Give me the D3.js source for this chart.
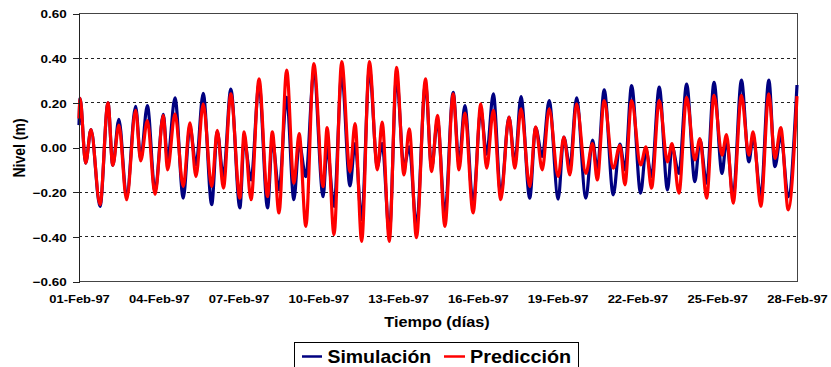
<!DOCTYPE html>
<html>
<head>
<meta charset="utf-8">
<script src="https://cdn.jsdelivr.net/npm/d3@7"></script>
<style>
  html, body { margin: 0; padding: 0; background: #ffffff; }
  svg { display: block; }
  text { font-family: "Liberation Sans", Arial, sans-serif; font-weight: bold; fill: #000; }
</style>
</head>
<body>
<svg id="chart" width="831" height="367"></svg>
<script>
// ---- Data: time in days since 01-Feb-97 00:00 ----
const tDays = [
  0.00, 0.04, 0.25, 0.45, 0.79, 1.09, 1.27, 1.50, 1.79, 2.13, 2.32, 2.57, 2.86,
  3.17, 3.33, 3.61, 3.92, 4.17, 4.40, 4.67, 4.99, 5.20, 5.43, 5.71, 6.05, 6.21,
  6.47, 6.77, 7.09, 7.27, 7.52, 7.81, 8.08, 8.28, 8.53, 8.83, 9.18, 9.33, 9.59,
  9.88, 10.19, 10.38, 10.63, 10.92, 11.22, 11.40, 11.67, 11.94, 12.22, 12.42, 12.69,
  13.03, 13.26, 13.48, 13.76, 14.07, 14.29, 14.51, 14.82, 15.11, 15.33, 15.58, 15.86,
  16.17, 16.39, 16.62, 16.95, 17.17, 17.42, 17.68, 18.02, 18.23, 18.46, 18.71, 19.06,
  19.31, 19.49, 19.75, 20.09, 20.34, 20.53, 20.78, 21.12, 21.32, 21.53, 21.82, 22.13,
  22.30, 22.56, 22.85, 23.16, 23.35, 23.60, 23.88, 24.18, 24.35, 24.60, 24.91, 25.19,
  25.35, 25.64, 25.94, 26.17, 26.39, 26.67, 27.00
];
const simulacion = [
  0.10, 0.22, -0.07, 0.08, -0.264, 0.20, -0.08, 0.126, -0.22, 0.184, -0.05, 0.188, -0.197,
  0.148, -0.056, 0.222, -0.227, 0.092, -0.078, 0.243, -0.256, 0.07, -0.13, 0.262, -0.271, 0.033,
  -0.145, 0.284, -0.271, 0.033, -0.19, 0.225, -0.234, 0.018, -0.13, 0.336, -0.22, 0.003, -0.264,
  0.329, -0.172, 0.018, -0.323, 0.351, -0.086, 0.018, -0.382, 0.314, -0.086, 0.003, -0.353,
  0.284, -0.09, 0.121, -0.30, 0.247, -0.071, 0.188, -0.249, 0.166, -0.03, 0.24, -0.212,
  0.136, -0.071, 0.228, -0.227, 0.089, -0.04, 0.21, -0.231, 0.047, -0.086, 0.222, -0.227,
  0.033, -0.10, 0.258, -0.212, 0.015, -0.10, 0.277, -0.204, -0.012, -0.13, 0.27, -0.19,
  0.003, -0.116, 0.284, -0.153, 0.035, -0.16, 0.292, -0.116, 0.033, -0.22, 0.302, -0.064,
  0.047, -0.22, 0.302, -0.086, 0.055, -0.22, 0.28
];
const prediccion = [
  0.13, 0.22, -0.07, 0.08, -0.256, 0.20, -0.08, 0.10, -0.234, 0.166, -0.06, 0.12, -0.21,
  0.144, -0.10, 0.151, -0.175, 0.11, -0.13, 0.196, -0.175, 0.077, -0.182, 0.24, -0.227, 0.07,
  -0.234, 0.307, -0.22, 0.07, -0.293, 0.347, -0.16, 0.062, -0.353, 0.376, -0.175, 0.089, -0.39,
  0.385, -0.108, 0.107, -0.42, 0.385, -0.10, 0.114, -0.42, 0.359, -0.123, 0.084, -0.404,
  0.307, -0.108, 0.144, -0.353, 0.24, -0.10, 0.154, -0.293, 0.196, -0.093, 0.166, -0.234,
  0.136, -0.093, 0.173, -0.175, 0.092, -0.10, 0.173, -0.13, 0.047, -0.123, 0.196, -0.116,
  0.018, -0.145, 0.21, -0.093, 0.01, -0.167, 0.21, -0.078, 0.003, -0.182, 0.21, -0.064,
  0.018, -0.204, 0.225, -0.056, 0.04, -0.227, 0.233, -0.034, 0.058, -0.249, 0.233, -0.034,
  0.07, -0.264, 0.24, -0.049, 0.089, -0.279, 0.23
];
const yTickValues = [-0.6, -0.4, -0.2, 0.0, 0.2, 0.4, 0.6];
const yGridValues = [-0.4, -0.2, 0.2, 0.4];
const xTickLabels = ["01-Feb-97","04-Feb-97","07-Feb-97","10-Feb-97","13-Feb-97","16-Feb-97","19-Feb-97","22-Feb-97","25-Feb-97","28-Feb-97"];
const seriesNames = ["Simulación", "Predicción"];
const seriesColors = ["#000080", "#ff0000"];
const xTitle = "Tiempo (días)";
const yTitle = "Nivel (m)";

// ---- Layout ----
const svg = d3.select("#chart");
const L = 79, R = 797, T = 13.5, B = 281.5;
const start = new Date(1997, 1, 1);
const toDate = d => new Date(start.getTime() + d * 86400000);

const x = d3.scaleTime().domain([start, toDate(27)]).range([L, R]);
const y = d3.scaleLinear().domain([-0.6, 0.6]).range([B, T]);

// Grid lines
svg.append("g").selectAll("line").data(yGridValues).join("line")
  .attr("x1", L).attr("x2", R)
  .attr("y1", d => y(d)).attr("y2", d => y(d))
  .attr("stroke", "#222").attr("stroke-width", 1)
  .attr("stroke-dasharray", "3,3")
  .attr("shape-rendering", "crispEdges");

// Zero line
svg.append("line")
  .attr("x1", L).attr("x2", R).attr("y1", y(0)).attr("y2", y(0))
  .attr("stroke", "#000").attr("stroke-width", 1)
  .attr("shape-rendering", "crispEdges");

// Plot frame
svg.append("rect")
  .attr("x", L).attr("y", T).attr("width", R - L).attr("height", B - T)
  .attr("fill", "none").attr("stroke", "#444").attr("stroke-width", 1)
  .attr("shape-rendering", "crispEdges");

// Series
const pts = (vals) => tDays.map((t, i) => ({ date: toDate(t), v: vals[i] }));
const line = d3.line().x(d => x(d.date)).y(d => y(d.v)).curve(d3.curveMonotoneX);
const allSeries = [simulacion, prediccion];
svg.append("g").selectAll("path").data(allSeries).join("path")
  .attr("d", d => line(pts(d)))
  .attr("fill", "none")
  .attr("stroke", (d, i) => seriesColors[i])
  .attr("stroke-width", 3.2)
  .attr("stroke-linejoin", "round");

// Y axis
const yAxis = d3.axisLeft(y).tickValues(yTickValues).tickSize(6).tickPadding(0)
  .tickFormat(d3.format(".2f"));
const gy = svg.append("g").attr("transform", `translate(${L},0)`).call(yAxis);
gy.select(".domain").attr("stroke", "#222").attr("shape-rendering", "crispEdges");
gy.selectAll(".tick line").attr("stroke", "#222").attr("shape-rendering", "crispEdges");
gy.selectAll(".tick text")
  .attr("font-size", 11.5).attr("font-family", "Liberation Sans, Arial, sans-serif")
  .attr("font-weight", "bold").attr("fill", "#000")
  .attr("x", 0).attr("dy", null).attr("dominant-baseline", null)
  .attr("transform", "translate(-12.3,4.2) scale(1.17,1)");

// X axis (labels only)
const xAxis = d3.axisBottom(x)
  .tickValues(xTickLabels.map((s, i) => toDate(i * 3)))
  .tickSize(0).tickPadding(0)
  .tickFormat((d, i) => xTickLabels[i]);
const gx = svg.append("g").attr("transform", `translate(0,${B})`).call(xAxis);
gx.select(".domain").remove();
gx.selectAll(".tick text")
  .attr("font-size", 11.5).attr("font-family", "Liberation Sans, Arial, sans-serif")
  .attr("font-weight", "bold").attr("fill", "#000")
  .attr("y", 0).attr("dy", null)
  .attr("transform", "translate(0,21.5) scale(1.13,1)");

// Axis titles
svg.append("text")
  .attr("transform", `translate(437,326.5) scale(1.05,1)`)
  .attr("text-anchor", "middle").attr("font-size", 15.5)
  .text(xTitle);
svg.append("text")
  .attr("transform", `translate(25,148) rotate(-90) scale(1,1.15)`)
  .attr("text-anchor", "middle").attr("font-size", 14)
  .text(yTitle);

// Legend
const lg = svg.append("g");
lg.append("rect")
  .attr("x", 294.5).attr("y", 342.5).attr("width", 284).attr("height", 40)
  .attr("fill", "#fff").attr("stroke", "#000").attr("stroke-width", 1);
const legendItems = [
  { x0: 302, x1: 322, tx: 327.5, sx: 1.08 },
  { x0: 444, x1: 465, tx: 470, sx: 1.1 }
];
legendItems.forEach((it, i) => {
  lg.append("line").attr("x1", it.x0).attr("x2", it.x1)
    .attr("y1", 356.5).attr("y2", 356.5)
    .attr("stroke", seriesColors[i]).attr("stroke-width", 2.5);
  lg.append("text")
    .attr("transform", `translate(${it.tx},362.7) scale(${it.sx},1)`)
    .attr("font-size", 18)
    .text(seriesNames[i]);
});
</script>
</body>
</html>
